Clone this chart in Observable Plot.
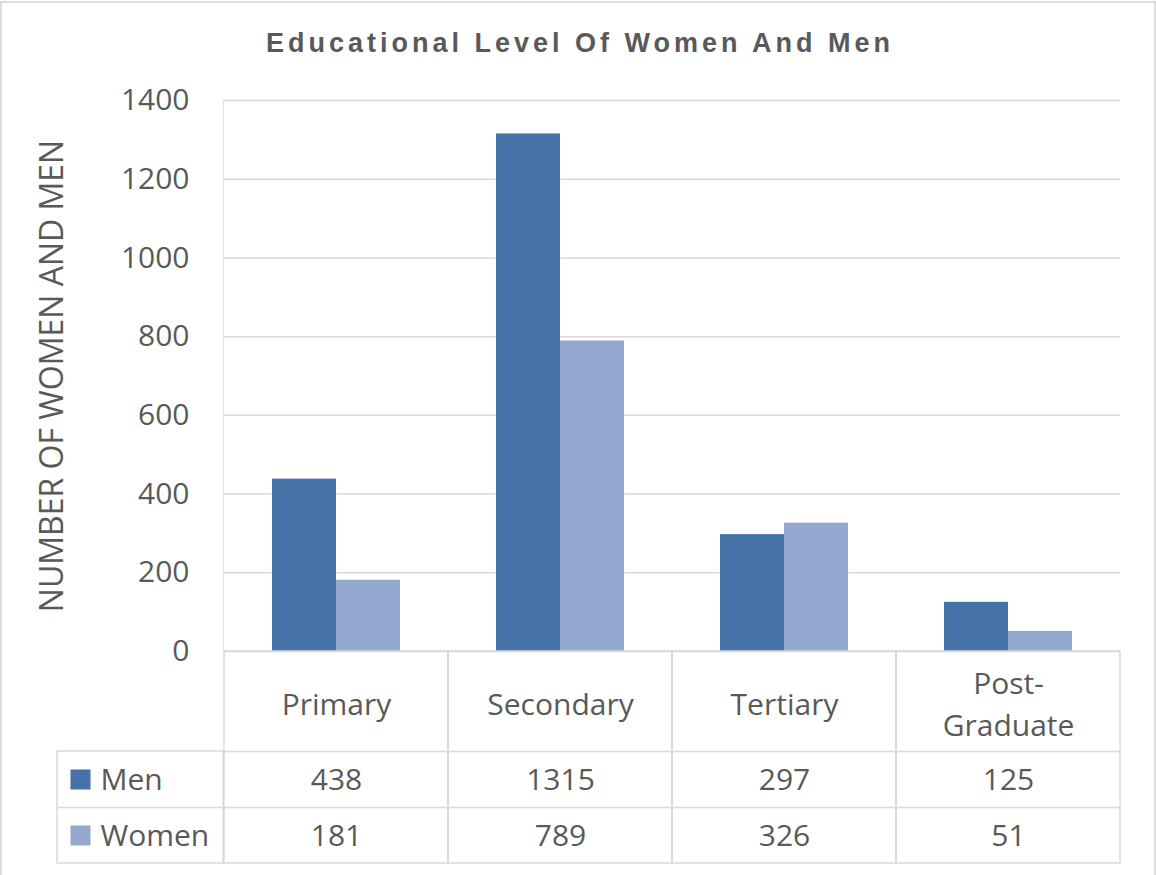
<!DOCTYPE html>
<html><head><meta charset="utf-8">
<script src="https://cdn.jsdelivr.net/npm/d3@7"></script>
<script src="https://cdn.jsdelivr.net/npm/@observablehq/plot@0.6"></script>
<style>
body{margin:0;background:#fff;}
#wrap{position:relative;width:1156px;height:875px;overflow:hidden;background:#fff;}
#border{position:absolute;left:0px;top:1px;width:1156px;height:900px;border:2px solid #dcdcdc;box-sizing:border-box;pointer-events:none;}
#title{height:60px;box-sizing:border-box;padding-top:28px;padding-left:4px;line-height:30px;text-align:center;font-family:"Liberation Sans",Arial,sans-serif;font-weight:bold;font-size:27px;letter-spacing:4px;color:#595959;}
#chart svg{overflow:visible;}
</style></head><body>
<div id="wrap"><div id="title">Educational Level Of Women And Men</div><div id="chart"></div><div id="border"></div></div>
<script>
const categories = ["Primary", "Secondary", "Tertiary", "Post-Graduate"];
const categoryLabels = ["Primary", "Secondary", "Tertiary", "Post-\nGraduate"];
const series = ["Men", "Women"];
const menValues = [438, 1315, 297, 125];
const womenValues = [181, 789, 326, 51];
const yTicks = [0, 200, 400, 600, 800, 1000, 1200, 1400];
const colors = ["#4573a7", "#95a9d0"];
const yLabel = "NUMBER OF WOMEN AND MEN";

const rows = categories.flatMap((c, i) => [
  {cat: c, series: series[0], value: menValues[i]},
  {cat: c, series: series[1], value: womenValues[i]}
]);
const table = categories.map((c, i) => ({cat: c, label: categoryLabels[i], men: String(menValues[i]), women: String(womenValues[i])}));
const first = [categories[0]];
const grid = "#d9d9d9";
const W = 1156, H = 815, mL = 222, mR = 35, mT = 40, mB = 224;
const bw = (W - mL - mR) / categories.length;

const chart = Plot.plot({
  width: W, height: H,
  marginLeft: mL, marginRight: mR, marginTop: mT, marginBottom: mB,
  style: {fontFamily: "'Open Sans', sans-serif", fontSize: "30px", color: "#595959", background: "transparent", overflow: "visible"},
  fx: {domain: categories, padding: 0, axis: null, label: null},
  x: {domain: series, paddingInner: 0, paddingOuter: 0.744, axis: null, label: null},
  y: {domain: [0, 1400], ticks: yTicks, tickFormat: d => String(d), tickSize: 0, tickPadding: 35, label: null},
  color: {domain: series, range: colors},
  marks: [
    Plot.ruleY(yTicks, {stroke: grid, strokeWidth: 1.5}),
    // vertical axis line
    Plot.rect(first, {fx: d => d, y1: 0, y2: 1400, insetLeft: -0.75, insetRight: bw - 0.75, fill: grid}),
    Plot.barY(rows, {fx: "cat", x: "series", y: "value", fill: "series"}),
    // data table cells
    Plot.rect(table, {fx: "cat", y1: 0, y2: 0, insetBottom: -212, stroke: grid, strokeWidth: 1.5, fill: "none"}),
    Plot.ruleY([0], {dy: 100, stroke: grid, strokeWidth: 1.5}),
    Plot.ruleY([0], {dy: 156, stroke: grid, strokeWidth: 1.5}),
    Plot.rect(first, {fx: d => d, y1: 0, y2: 0, insetTop: 100, insetBottom: -212, insetLeft: -167, insetRight: bw, stroke: grid, strokeWidth: 1.5, fill: "none"}),
    Plot.ruleY([0], {fx: () => categories[0], dy: 156, insetLeft: -167, insetRight: bw, stroke: grid, strokeWidth: 1.5}),
    Plot.text(table, {fx: "cat", text: "label", frameAnchor: "bottom", lineAnchor: "middle", dy: 50, fontSize: 30, lineHeight: 1.42}),
    Plot.text(table, {fx: "cat", text: "men", frameAnchor: "bottom", lineAnchor: "middle", dy: 129, fontSize: 30}),
    Plot.text(table, {fx: "cat", text: "women", frameAnchor: "bottom", lineAnchor: "middle", dy: 185, fontSize: 30}),
    // legend keys inside the table
    Plot.dot(first, {fx: d => d, frameAnchor: "bottom-left", dx: -144, dy: 128, symbol: "square", r: 11.3, fill: colors[0]}),
    Plot.dot(first, {fx: d => d, frameAnchor: "bottom-left", dx: -144, dy: 184, symbol: "square", r: 11.3, fill: colors[1]}),
    Plot.text(first, {fx: d => d, text: () => series[0], frameAnchor: "bottom-left", lineAnchor: "middle", dx: -124, dy: 129, textAnchor: "start", fontSize: 30}),
    Plot.text(first, {fx: d => d, text: () => series[1], frameAnchor: "bottom-left", lineAnchor: "middle", dx: -124, dy: 185, textAnchor: "start", fontSize: 30}),
    // y-axis title
    Plot.text(first, {fx: d => d, text: () => yLabel, frameAnchor: "left", textAnchor: "middle", lineAnchor: "middle", dx: -172, rotate: -90, fontSize: 32})
  ]
});
document.getElementById("chart").appendChild(chart);
</script>
</body></html>
